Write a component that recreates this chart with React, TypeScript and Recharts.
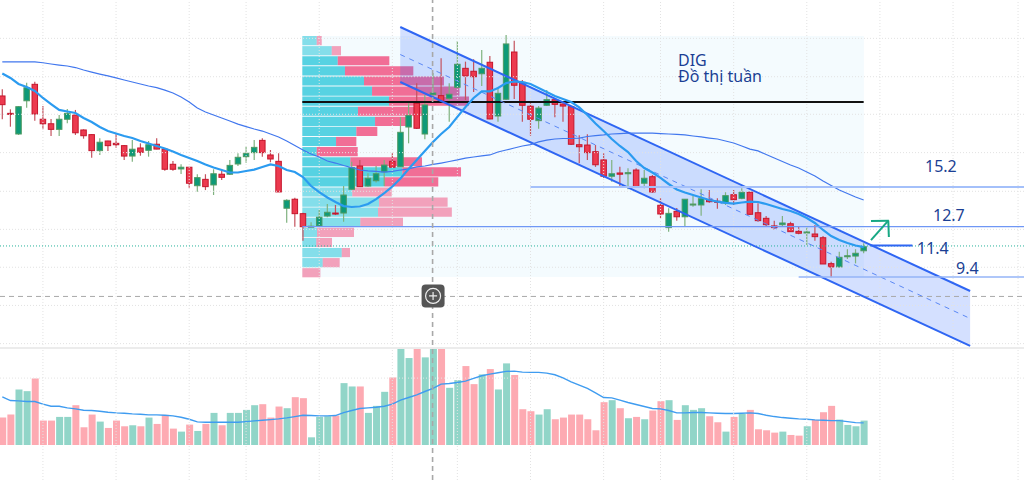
import {
  Area,
  Bar,
  Cell,
  ComposedChart,
  Line,
  ReferenceArea,
  ReferenceDot,
  ReferenceLine,
  XAxis,
  YAxis,
} from 'recharts';

const WIDTH = 1024;
const HEIGHT = 480;

// weekly candles, oldest first
const opens = [
  21.06, 19.94, 18.61, 20.75, 21.81, 19.56, 19.27, 18.91, 19.56, 19.83,
  18.87, 18.57, 17.54, 18.16, 18.01, 17.86, 17.19, 17.71, 17.56, 17.95,
  17.63, 16.66, 16.36, 16.47, 15.28, 15.69, 15.33, 16.02, 16.02, 16.68,
  17.15, 17.41, 18.2, 17.26, 16.85, 13.83, 14.41, 13.48, 12.64, 12.69,
  13.33, 13.52, 13.52, 15.05, 16.55, 15.26, 15.6, 16.18, 16.85, 16.5,
  19.06, 20.59, 18.61, 21.15, 21.08, 20.91, 21.62, 22.84, 22.65, 22.49,
  23.23, 19.77, 20.85, 23.89, 21.94, 20.4, 19.47, 20.46, 20.82, 20.54,
  20.37, 17.92, 17.9, 17.47, 16.94, 15.89, 16.1, 16.05, 16.29, 15.44,
  15.86, 14.02, 12.58, 13.63, 13.28, 14.06, 14.04, 14.38, 14.28, 14.17,
  14.7, 14.47, 14.86, 13.54, 13.18, 12.69, 12.77, 12.83, 12.34, 12.28,
  12.17, 11.93, 10.26, 10.05, 10.71, 10.75, 11.09,
];
const closes = [
  20.5, 19.9, 20.37, 21.59, 19.9, 19.27, 18.91, 19.56, 19.94, 18.69,
  18.5, 17.54, 18.08, 17.86, 17.92, 17.19, 17.63, 17.43, 17.92, 17.64,
  16.34, 16.34, 16.47, 15.44, 15.8, 15.22, 16.05, 15.82, 16.59, 17.11,
  17.37, 17.75, 17.41, 17.0, 14.88, 14.34, 13.48, 12.64, 12.67, 13.25,
  13.57, 13.46, 14.68, 16.44, 15.22, 15.76, 16.05, 16.61, 16.47, 18.72,
  19.81, 18.98, 20.48, 21.25, 20.69, 21.17, 23.1, 22.35, 22.3, 22.84,
  19.58, 21.23, 24.41, 21.75, 20.46, 19.56, 20.28, 20.82, 20.52, 20.41,
  17.95, 17.79, 17.41, 16.63, 15.89, 16.05, 16.02, 16.12, 15.22, 15.76,
  14.88, 13.46, 13.5, 13.28, 14.41, 14.1, 14.44, 14.25, 14.21, 14.64,
  14.38, 14.86, 13.44, 13.03, 12.77, 12.58, 12.88, 12.32, 12.22, 12.3,
  12.0, 10.24, 10.05, 10.67, 10.77, 10.93, 11.35,
];
const highs = [
  21.49, 20.2, 20.41, 21.91, 21.98, 20.41, 19.58, 19.83, 20.22, 20.16,
  18.91, 18.59, 18.33, 18.18, 18.66, 17.9, 18.22, 18.01, 18.16, 18.33,
  17.63, 16.87, 16.66, 16.49, 16.02, 16.02, 16.34, 16.29, 16.94, 17.37,
  17.79, 18.22, 18.33, 17.58, 17.37, 14.41, 14.51, 13.54, 12.92, 13.72,
  14.1, 14.04, 15.26, 16.83, 16.94, 16.08, 16.55, 16.94, 17.37, 19.69,
  20.59, 21.88, 21.12, 22.54, 23.49, 21.88, 24.6, 23.27, 23.42, 24.02,
  23.63, 21.64, 24.99, 24.62, 22.09, 20.59, 20.41, 21.44, 20.91, 20.59,
  20.41, 18.53, 18.59, 17.9, 17.37, 16.94, 16.5, 16.4, 16.4, 16.29,
  15.97, 14.47, 13.83, 13.84, 14.41, 14.62, 15.05, 15.0, 14.47, 14.86,
  15.0, 15.11, 14.89, 14.15, 13.33, 13.03, 13.33, 12.96, 12.69, 12.6,
  12.75, 12.04, 10.39, 11.03, 11.19, 11.19, 11.57,
];
const lows = [
  19.56, 19.08, 18.55, 20.3, 19.47, 18.91, 18.48, 18.48, 19.3, 18.55,
  18.31, 17.08, 17.26, 17.52, 17.73, 16.94, 16.83, 17.21, 17.15, 17.63,
  16.25, 16.25, 16.03, 15.15, 14.89, 15.0, 14.68, 15.65, 15.97, 16.55,
  16.76, 16.94, 17.15, 16.79, 14.88, 12.9, 12.64, 11.74, 12.6, 12.64,
  13.25, 13.39, 12.96, 15.0, 15.22, 15.22, 15.48, 15.26, 16.47, 16.5,
  18.01, 18.93, 18.27, 20.8, 20.69, 19.4, 21.55, 20.8, 21.32, 21.7,
  19.56, 19.4, 20.8, 20.86, 19.4, 18.5, 18.95, 20.41, 19.69, 19.4,
  17.9, 16.72, 16.94, 16.49, 15.78, 15.54, 15.26, 15.05, 15.13, 15.11,
  14.83, 13.18, 12.32, 13.03, 12.64, 13.93, 13.35, 14.19, 13.8, 14.04,
  14.04, 14.41, 13.39, 12.96, 12.69, 12.43, 12.69, 12.3, 12.15, 11.46,
  11.74, 10.24, 9.38, 10.03, 10.56, 10.28, 10.93,
];

const fastMa = [
  22.51, 22.22, 21.83, 21.64, 21.38, 20.93, 20.54, 20.16, 20.06, 19.96,
  19.64, 19.38, 19.06, 18.8, 18.64, 18.48, 18.35, 18.16, 18.0, 17.84,
  17.68, 17.48, 17.26, 17.06, 16.87, 16.65, 16.45, 16.29, 16.13, 16.13,
  16.23, 16.32, 16.49, 16.65, 16.55, 16.29, 16.16, 15.84, 15.26, 14.87,
  14.52, 14.23, 13.97, 13.91, 13.94, 14.1, 14.42, 14.81, 15.23, 15.74,
  16.36, 16.94, 17.52, 18.1, 18.61, 19.06, 19.71, 20.35, 20.93, 21.35,
  21.35, 21.57, 21.89, 21.99, 21.96, 21.83, 21.57, 21.32, 21.06, 20.86,
  20.67, 20.32, 19.83, 19.29, 18.8, 18.29, 17.84, 17.45, 16.87, 16.42,
  16.13, 15.78, 15.39, 15.04, 14.84, 14.68, 14.52, 14.36, 14.26, 14.17,
  14.13, 14.2, 14.26, 14.23, 14.1, 13.94, 13.78, 13.65, 13.46, 13.2,
  12.88, 12.43, 12.04, 11.78, 11.59, 11.43, 11.33,
];
const slowMa = [
  23.25, 23.25, 23.26, 23.25, 23.25, 23.2, 23.12, 23.05, 22.99, 22.89,
  22.73, 22.6, 22.47, 22.35, 22.22, 22.09, 21.96, 21.83, 21.7, 21.6,
  21.44, 21.25, 20.99, 20.67, 20.28, 20.03, 19.83, 19.64, 19.45, 19.25,
  19.09, 18.93, 18.8, 18.61, 18.42, 18.16, 17.87, 17.58, 17.32, 17.13,
  16.87, 16.74, 16.58, 16.45, 16.29, 16.23, 16.2, 16.16, 16.2, 16.29,
  16.36, 16.49, 16.55, 16.65, 16.74, 16.84, 16.94, 17.06, 17.13, 17.2,
  17.26, 17.45, 17.58, 17.71, 17.84, 17.93, 18.1, 18.22, 18.29, 18.32,
  18.32, 18.35, 18.45, 18.51, 18.55, 18.61, 18.64, 18.67, 18.67, 18.67,
  18.67, 18.64, 18.61, 18.58, 18.55, 18.48, 18.42, 18.35, 18.29, 18.16,
  18.03, 17.84, 17.64, 17.52, 17.29, 17.06, 16.84, 16.61, 16.42, 16.16,
  15.91, 15.58, 15.29, 15.0, 14.78, 14.55, 14.36,
];

const volumes = [
  8.2, 9.1, 16.6, 16.1, 19.9, 7.3, 7.3, 8.4, 8.4, 11.9,
  5.3, 9.1, 7.0, 5.1, 7.3, 5.6, 5.9, 5.6, 8.2, 6.3,
  9.0, 4.9, 4.0, 6.1, 4.2, 6.3, 9.6, 5.9, 9.6, 9.6,
  10.5, 11.9, 12.2, 8.2, 11.5, 11.0, 14.3, 14.0, 2.3, 8.4,
  8.6, 8.8, 18.5, 17.5, 17.5, 9.6, 11.7, 15.9, 20.2, 31.0,
  26.0, 31.0, 26.2, 31.0, 31.0, 17.1, 19.4, 23.6, 18.2, 21.1,
  22.7, 16.6, 24.4, 20.9, 10.7, 10.1, 9.1, 10.7, 7.7, 8.2,
  9.1, 9.1, 7.7, 4.4, 12.8, 13.4, 11.0, 8.0, 8.4, 7.7,
  10.3, 13.1, 13.4, 7.5, 11.9, 10.5, 11.0, 8.6, 6.8, 4.0,
  8.4, 9.3, 10.5, 4.7, 4.4, 3.7, 4.0, 3.0, 2.8, 5.6,
  7.5, 9.8, 11.7, 7.6, 6.0, 5.6, 7.3,
];
const volumeMa = [
  14.4, 13.3, 13.2, 13.0, 13.0, 12.2, 11.6, 11.6, 11.1, 10.8,
  10.4, 10.3, 10.1, 9.8, 9.6, 9.5, 9.3, 9.2, 9.0, 9.0,
  8.9, 8.7, 8.3, 7.7, 6.9, 6.8, 6.8, 6.8, 6.8, 6.8,
  7.0, 7.2, 7.4, 7.6, 7.8, 8.1, 8.5, 8.9, 8.8, 8.7,
  8.7, 8.8, 9.7, 10.3, 10.9, 11.1, 11.3, 11.6, 12.2, 13.4,
  14.2, 15.0, 16.0, 16.9, 18.2, 18.4, 18.7, 19.1, 19.9, 20.7,
  21.2, 21.6, 22.0, 22.1, 21.8, 21.7, 21.7, 21.5, 21.0, 20.1,
  18.9, 17.9, 16.9, 15.6, 14.2, 14.1, 13.4, 12.7, 12.1, 11.5,
  10.9, 10.8, 10.3, 9.6, 9.6, 9.7, 9.7, 9.6, 9.5, 9.4,
  9.4, 9.5, 9.6, 9.4, 8.9, 8.5, 8.2, 8.0, 7.8, 7.7,
  7.5, 7.4, 7.3, 7.3, 7.0, 6.7, 6.6,
];

// volume profile rows, top to bottom, widths in bars
const profileUp = [
  1.77, 3.62, 4.36, 5.25, 7.59, 8.58, 10.67, 6.85, 8.95, 6.65, 4.15, 1.77,
  5.91, 12.31, 10.05, 6.15, 9.44, 9.32, 7.14, 1.81, 1.72, 4.85, 2.51, 0,
];
const profileDown = [
  0.62, 1.14, 6.35, 8.41, 9.84, 10.76, 9.84, 8.25, 4.43, 2.58, 2.5, 5.05,
  8.82, 7.22, 6.68, 4.85, 8.44, 9.08, 5.25, 4.55, 1.93, 1.02, 2.09, 2.22,
];
const profileValueArea = [2, 14]; // first and last strong row
const profileLeft = 36.92;
const profileRight = 106.03;
const profileTop = 24.92;
const profileStep = 0.65;
const profileRow = 0.59;

const gridBars = [5, 14, 23, 30, 39, 48, 56, 65, 74, 81, 90, 99, 108, 117, 125];
const gridPrices = [24.77, 22.3, 19.88, 17.41, 14.92, 12.47, 10.03, 7.57, 5.11];

const channelBars = [48.97, 119.1];
const channelUpper = [25.5, 8.5];
const channelMiddle = [23.73, 6.73];
const channelLower = [21.96, 4.96];

const candles = opens.map((open, i) => ({
  i,
  open,
  close: closes[i],
  high: highs[i],
  low: lows[i],
  fast: fastMa[i],
  slow: slowMa[i],
}));
const volumeRows = volumes.map((volume, i) => ({
  i,
  volume,
  ma: volumeMa[i],
  up: closes[i] >= opens[i],
}));
const channelRows = channelBars.map((i, k) => ({
  i,
  band: [channelLower[k], channelUpper[k]],
}));

const X_DOMAIN = [-0.283, 125.73];
const PRICE_DOMAIN = [-3.672, 27.24];
const LAST_BAR = 106;
const CROSS_BAR = 52.95;
const CROSS_PRICE = 8.15;
const CANDLE_WIDTH = 5.5;

const Candle = (props: any) => {
  const { x, y, width, height, payload } = props;
  const { open, close, high, low } = payload;
  const up = close >= open;
  // a [low, high] bar can come back with a negative height
  const fullHeight = Math.abs(height);
  const wickTop = Math.min(y, y + height);
  const perUnit = fullHeight / (high - low || 1);
  const top = wickTop + (high - Math.max(open, close)) * perUnit;
  const bodyHeight = Math.max(Math.abs(open - close) * perUnit, 1);
  // the channel's off-grid x values squeeze the band, so width is not the candle width
  const cx = x + width / 2;
  return (
    <g>
      <line
        x1={cx}
        x2={cx}
        y1={wickTop}
        y2={wickTop + fullHeight}
        stroke={up ? '#7fb27f' : '#c4525e'}
        strokeWidth={1.2}
      />
      <rect
        x={cx - CANDLE_WIDTH / 2}
        y={top}
        width={CANDLE_WIDTH}
        height={bodyHeight}
        fill={up ? '#0e9a78' : '#ec3a4f'}
        stroke={up ? '#4f9a62' : '#c5162c'}
        strokeWidth={1}
      />
    </g>
  );
};

const PlusButton = (props: any) => {
  const { cx, cy } = props;
  return (
    <g>
      <rect x={cx - 11} y={cy - 12} width={23} height={23} rx={4} fill="#555" />
      <circle cx={cx + 0.5} cy={cy - 0.5} r={7.5} fill="none" stroke="#eee" strokeWidth={1.2} />
      <path
        d={`M${cx + 0.5} ${cy - 4.5}V${cy + 3.5}M${cx - 3.5} ${cy - 0.5}H${cx + 4.5}`}
        stroke="#eee"
        strokeWidth={1.2}
      />
    </g>
  );
};

const labelStyle = (left: number, top: number): React.CSSProperties => ({
  position: 'absolute',
  left,
  top,
  fontFamily: '"Noto Sans", sans-serif',
  fontSize: 16,
  lineHeight: '16px',
  color: '#1b3f94',
  whiteSpace: 'nowrap',
});

export default function App() {
  const levelStroke = '#6f97f5';
  return (
    <div
      style={{
        position: 'absolute',
        left: 0,
        top: 0,
        width: WIDTH,
        height: HEIGHT,
        overflow: 'hidden',
        background: '#fff',
      }}
    >
      {/* volume pane */}
      <div style={{ position: 'absolute', left: 0, top: 348 }}>
        <ComposedChart
          width={WIDTH}
          height={132}
          data={volumeRows}
          margin={{ top: 0, right: 0, bottom: 35, left: 0 }}
        >
          <XAxis dataKey="i" type="number" domain={X_DOMAIN} allowDataOverflow hide />
          <YAxis domain={[0, 29]} allowDataOverflow hide />
          <ReferenceLine y={20} stroke="#e4e4e4" strokeDasharray="1 2" />
          <Bar dataKey="volume" barSize={7} isAnimationActive={false}>
            {volumeRows.map((row) => (
              <Cell key={row.i} fill={row.up ? '#91d5c8' : '#fdaab2'} />
            ))}
          </Bar>
          <Line
            dataKey="ma"
            stroke="#3f9cf0"
            strokeWidth={1.4}
            dot={false}
            activeDot={false}
            isAnimationActive={false}
          />
        </ComposedChart>
      </div>

      {/* price pane */}
      <div style={{ position: 'absolute', left: 0, top: 0 }}>
        <ComposedChart
          width={WIDTH}
          height={HEIGHT}
          data={candles}
          margin={{ top: 0, right: 0, bottom: 0, left: 0 }}
        >
          <XAxis dataKey="i" type="number" domain={X_DOMAIN} allowDataOverflow hide />
          <YAxis domain={PRICE_DOMAIN} allowDataOverflow hide />
          <ReferenceArea
            x1={profileLeft}
            x2={profileRight}
            y1={profileTop}
            y2={9.4}
            fill="#f4fbfe"
            fillOpacity={1}
            stroke="none"
          />
          {gridBars.map((bar) => (
            <ReferenceLine key={bar} x={bar} stroke="#e2e2e2" strokeDasharray="1 2" />
          ))}
          {gridPrices.map((price) => (
            <ReferenceLine key={price} y={price} stroke="#e2e2e2" strokeDasharray="1 2" />
          ))}
          <ReferenceLine y={4.83} stroke="#ececec" strokeWidth={2} />
          <ReferenceLine y={11.4} stroke="#26b39a" strokeDasharray="1 2" />
          <ReferenceLine y={CROSS_PRICE} stroke="#a8a8a8" strokeDasharray="5 4" />

          <Bar
            dataKey={(d: any) => [d.low, d.high]}
            barSize={6}
            shape={Candle}
            isAnimationActive={false}
          />

          <ReferenceLine
            segment={[{ x: profileLeft, y: 20.67 }, { x: LAST_BAR, y: 20.67 }]}
            stroke="#111"
            strokeWidth={2.2}
          />

          {profileUp.map((up, r) => {
            const strong = r >= profileValueArea[0] && r <= profileValueArea[1];
            const top = profileTop - r * profileStep;
            return (
              <ReferenceArea
                key={`up-${r}`}
                x1={profileLeft}
                x2={profileLeft + up}
                y1={top}
                y2={top - profileRow}
                fill="#14c1d5"
                fillOpacity={strong ? 0.7 : 0.5}
                stroke="none"
              />
            );
          })}
          {profileDown.map((down, r) => {
            const strong = r >= profileValueArea[0] && r <= profileValueArea[1];
            const top = profileTop - r * profileStep;
            const start = profileLeft + profileUp[r];
            return (
              <ReferenceArea
                key={`down-${r}`}
                x1={start}
                x2={start + down}
                y1={top}
                y2={top - profileRow}
                fill="#f0326a"
                fillOpacity={strong ? 0.7 : 0.45}
                stroke="none"
              />
            );
          })}

          <Area
            data={channelRows}
            dataKey="band"
            type="linear"
            fill="#2962ff"
            fillOpacity={0.2}
            stroke="none"
            dot={false}
            activeDot={false}
            isAnimationActive={false}
          />
          <ReferenceLine
            segment={[
              { x: channelBars[0], y: channelUpper[0] },
              { x: channelBars[1], y: channelUpper[1] },
            ]}
            stroke="#2f66f3"
            strokeWidth={2}
          />
          <ReferenceLine
            segment={[
              { x: channelBars[0], y: channelLower[0] },
              { x: channelBars[1], y: channelLower[1] },
            ]}
            stroke="#2f66f3"
            strokeWidth={2}
          />
          <ReferenceLine
            segment={[
              { x: channelBars[0], y: channelMiddle[0] },
              { x: channelBars[1], y: channelMiddle[1] },
            ]}
            stroke="#5b88f5"
            strokeWidth={1}
            strokeDasharray="5 5"
          />

          <Line dataKey="slow" stroke="#4177ee" strokeWidth={1.2} dot={false} activeDot={false} isAnimationActive={false} />
          <Line dataKey="fast" stroke="#2b9bf0" strokeWidth={2.2} dot={false} activeDot={false} isAnimationActive={false} />

          <ReferenceLine
            segment={[{ x: 65, y: 15.2 }, { x: 125.73, y: 15.2 }]}
            stroke="#a4c0fa"
            strokeWidth={2}
          />
          <ReferenceLine
            segment={[{ x: profileLeft, y: 12.65 }, { x: 125.73, y: 12.65 }]}
            stroke={levelStroke}
            strokeWidth={1.2}
          />
          <ReferenceLine
            segment={[{ x: 98, y: 9.4 }, { x: 125.73, y: 9.4 }]}
            stroke="#94b4f7"
            strokeWidth={1.5}
          />
          <ReferenceLine
            segment={[{ x: 106.9, y: 11.43 }, { x: 112, y: 11.43 }]}
            stroke="#2f66f3"
            strokeWidth={2}
          />

          <ReferenceLine
            segment={[{ x: 106.9, y: 11.78 }, { x: 109.03, y: 13.03 }]}
            stroke="#17a884"
            strokeWidth={2}
          />
          <ReferenceLine
            segment={[{ x: 106.9, y: 13.01 }, { x: 109.1, y: 13.03 }]}
            stroke="#17a884"
            strokeWidth={2}
          />
          <ReferenceLine
            segment={[{ x: 109.03, y: 13.03 }, { x: 109.1, y: 11.98 }]}
            stroke="#17a884"
            strokeWidth={2}
          />

          <ReferenceLine x={CROSS_BAR} stroke="#a8a8a8" strokeWidth={1.6} strokeDasharray="5 4" />
          <ReferenceDot x={CROSS_BAR} y={CROSS_PRICE} shape={PlusButton} />
        </ComposedChart>
      </div>

      <div style={labelStyle(678, 52)}>
        DIG
        <br />
        Đồ thị tuần
      </div>
      <div style={labelStyle(925, 158)}>15.2</div>
      <div style={labelStyle(933, 207)}>12.7</div>
      <div style={labelStyle(917, 240)}>11.4</div>
      <div style={labelStyle(956, 260)}>9.4</div>
    </div>
  );
}
